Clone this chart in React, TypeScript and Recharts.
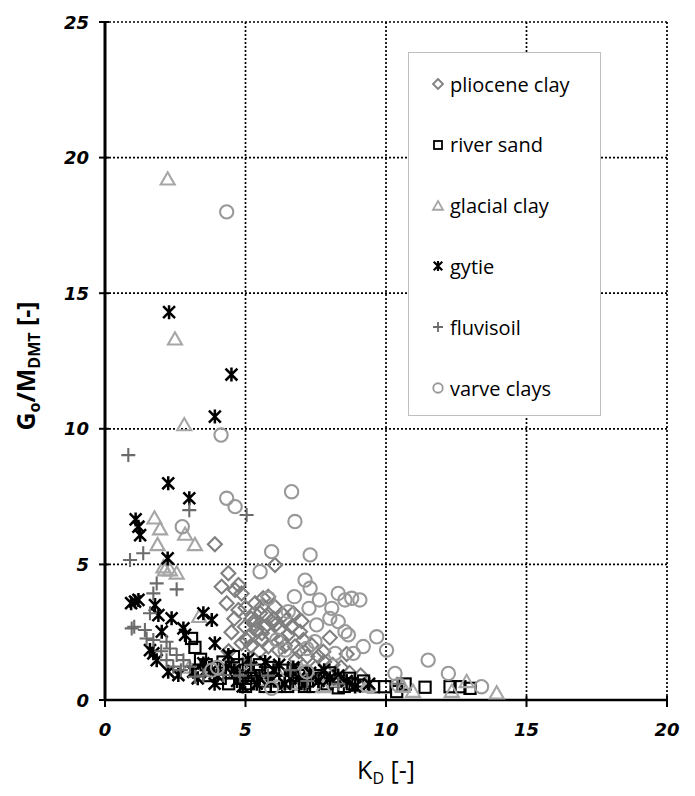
import React from "react";
import { ScatterChart, Scatter, XAxis, YAxis, CartesianGrid, Legend } from "recharts";

type P = { x: number; y: number };
const pt = (a: number[][]): P[] => a.map(([x, y]) => ({ x, y }));

const xTicks = [0, 5, 10, 15, 20];
const yTicks = [0, 5, 10, 15, 20, 25];

const plioceneClay = pt([
  [3.91, 5.74], [4.39, 4.67], [4.15, 4.18], [4.63, 4.06], [4.33, 3.57], [4.86, 3.93], [4.75, 3.32],
  [6.05, 4.98], [5.81, 3.81], [5.58, 3.44], [4.75, 4.24], [5.34, 3.57], [5.63, 3.75], [6.05, 3.44],
  [6.35, 3.13], [6.46, 2.95], [6.64, 2.7], [6.94, 2.52], [7.06, 2.21], [7.35, 2.03], [7.77, 1.78],
  [7.59, 1.6], [6.76, 1.97], [5.34, 2.95], [4.98, 2.7], [5.1, 2.33], [5.58, 2.46], [5.81, 1.97],
  [6.17, 1.84], [4.86, 2.09], [5.52, 3.2], [5.93, 2.89], [5.2, 3.0], [5.4, 2.6], [5.7, 2.7],
  [5.9, 2.4], [6.2, 2.6], [6.3, 2.2], [6.5, 2.4], [6.0, 3.0], [5.0, 3.4], [5.2, 2.0], [5.5, 1.8],
  [6.9, 1.8], [7.2, 1.6], [7.8, 1.4], [8.1, 1.3], [8.4, 1.2], [8.7, 1.0], [9.1, 0.9], [4.5, 2.5],
  [4.6, 3.0], [6.7, 3.2], [7.0, 2.9], [8.0, 2.3], [8.6, 1.7], [5.05, 2.2], [4.9, 1.3], [4.4, 1.8],
  [6.8, 1.5], [7.5, 1.2], [5.3, 2.8], [5.75, 3.1], [6.1, 2.8], [6.4, 2.0], [5.6, 2.2],
]);

const riverSand = pt([
  [3.08, 2.27], [3.2, 1.94], [3.4, 1.5], [3.6, 1.3], [3.9, 1.2], [4.2, 1.4], [4.57, 1.6], [4.5, 1.0],
  [4.8, 0.8], [5.0, 1.1], [5.1, 0.6], [5.3, 0.9], [5.5, 1.3], [5.6, 0.7], [5.8, 1.0], [6.0, 0.8],
  [6.1, 0.5], [6.3, 1.1], [6.4, 0.7], [6.6, 0.9], [6.8, 0.6], [7.0, 1.0], [7.2, 0.7], [7.4, 0.5],
  [7.7, 0.8], [7.9, 0.6], [8.2, 0.7], [8.5, 0.5], [8.8, 0.6], [9.0, 0.55], [9.55, 0.49], [9.96, 0.49],
  [10.38, 0.31], [10.68, 0.59], [11.39, 0.47], [12.28, 0.49], [12.63, 0.49], [12.99, 0.43],
  [4.4, 0.6], [4.7, 1.3], [5.0, 0.5], [5.2, 0.8], [5.4, 1.1], [5.7, 0.5], [5.9, 1.2], [6.2, 0.7],
  [6.5, 0.5], [6.7, 1.1], [6.9, 0.9], [7.1, 0.5], [7.5, 0.9], [7.8, 0.5], [8.0, 1.0], [8.3, 0.45],
  [8.7, 0.8], [9.2, 0.7], [3.3, 1.1], [3.7, 0.9], [4.1, 0.8],
]);

const glacialClay = pt([
  [2.23, 19.2], [2.49, 13.3], [2.82, 10.14], [1.76, 6.7], [1.96, 6.3], [1.87, 5.72], [3.2, 5.72],
  [2.13, 4.79], [2.31, 4.79], [2.55, 4.67], [2.08, 4.9], [3.35, 3.07], [5.52, 0.74], [7.77, 0.49],
  [9.29, 0.49], [9.37, 0.52], [10.6, 0.49], [10.96, 0.31], [12.34, 0.31], [12.87, 0.67], [13.94, 0.25],
  [6.2, 0.9], [7.0, 1.1], [8.3, 0.7], [6.6, 0.6], [3.0, 1.2], [2.85, 6.1],
]);

const gytie = pt([
  [2.28, 14.3], [4.5, 12.0], [3.91, 10.45], [2.25, 7.99], [3.0, 7.44], [1.09, 6.66], [1.19, 6.39],
  [1.25, 6.08], [2.23, 5.22], [1.07, 3.63], [0.93, 3.57], [1.19, 3.69], [1.78, 3.5], [1.9, 3.13],
  [3.5, 3.2], [3.8, 2.95], [2.37, 3.01], [2.79, 2.64], [2.02, 2.52], [3.91, 2.09], [1.72, 1.72],
  [4.39, 1.66], [1.84, 1.47], [2.25, 1.04], [2.61, 0.92], [3.5, 1.35], [3.74, 1.04], [3.14, 1.04],
  [2.85, 2.4], [1.6, 1.84], [4.0, 0.9], [4.3, 1.2], [4.7, 0.7], [5.2, 1.2], [5.5, 0.8], [5.7, 1.4],
  [6.0, 1.1], [6.4, 0.6], [6.7, 1.2], [6.9, 0.8], [7.3, 1.0], [8.0, 0.8], [8.6, 0.7], [9.4, 0.6],
  [4.6, 1.1], [4.9, 0.5], [5.1, 1.5], [5.4, 0.6], [5.9, 0.7], [6.2, 1.3], [6.6, 0.8], [7.1, 0.6],
  [7.6, 0.7], [7.8, 1.1], [8.3, 0.9], [8.9, 0.5], [3.3, 0.8], [3.9, 0.6],
]);

const fluvisoil = pt([
  [0.83, 9.03], [3.0, 7.0], [5.04, 6.82], [1.36, 5.41], [0.89, 5.16], [1.84, 4.3], [2.55, 4.08],
  [1.72, 3.93], [0.95, 2.64], [1.42, 2.58], [1.48, 2.27], [1.72, 2.21], [2.19, 2.15], [2.31, 1.9],
  [2.55, 1.66], [2.19, 1.47], [2.79, 1.47], [2.43, 1.23], [3.02, 1.23], [3.2, 0.86], [4.21, 0.92],
  [1.6, 3.2], [1.04, 2.7], [2.0, 1.8], [2.7, 1.1], [3.5, 0.9], [4.8, 0.9], [5.2, 1.3], [5.8, 0.9],
  [6.6, 1.1], [7.2, 0.7], [8.3, 0.6], [10.4, 0.6],
]);

const varveClays = pt([
  [4.33, 18.0], [4.13, 9.77], [4.33, 7.44], [4.63, 7.13], [2.75, 6.39], [6.64, 7.68], [6.76, 6.58],
  [5.93, 5.47], [7.3, 5.35], [5.52, 4.73], [7.12, 4.42], [7.3, 4.12], [6.74, 3.81], [7.63, 3.69],
  [8.3, 3.93], [8.54, 3.69], [8.78, 3.75], [7.26, 3.38], [8.07, 3.38], [5.81, 3.75], [6.52, 3.26],
  [8.0, 3.01], [7.53, 2.77], [8.3, 2.89], [8.54, 2.52], [8.66, 2.4], [6.11, 2.21], [9.19, 1.97],
  [8.84, 1.72], [7.18, 1.9], [6.41, 1.84], [7.47, 2.15], [8.19, 1.72], [5.93, 0.43], [7.18, 1.04],
  [9.07, 3.69], [9.67, 2.33], [10.02, 1.84], [11.5, 1.47], [10.32, 0.98], [12.22, 0.98], [13.4, 0.49],
  [10.44, 0.55], [3.8, 1.1], [4.0, 1.2],
]);

type Kind = "diamond" | "square" | "triangle" | "star" | "plus" | "circle";

const seriesDefs: { name: string; data: P[]; kind: Kind; color: string }[] = [
  { name: "pliocene clay", data: plioceneClay, kind: "diamond", color: "#7f7f7f" },
  { name: "river sand", data: riverSand, kind: "square", color: "#000000" },
  { name: "glacial clay", data: glacialClay, kind: "triangle", color: "#a6a6a6" },
  { name: "gytie", data: gytie, kind: "star", color: "#000000" },
  { name: "fluvisoil", data: fluvisoil, kind: "plus", color: "#6b6b6b" },
  { name: "varve clays", data: varveClays, kind: "circle", color: "#999999" },
];

function marker(kind: Kind, cx: number, cy: number, s: number, color: string, sw: number, key?: string) {
  const common = { fill: "none", stroke: color, strokeWidth: sw };
  switch (kind) {
    case "diamond":
      return <path key={key} d={`M${cx},${cy - s}L${cx + s},${cy}L${cx},${cy + s}L${cx - s},${cy}Z`} {...common} />;
    case "square":
      return <rect key={key} x={cx - s * 0.8} y={cy - s * 0.8} width={s * 1.6} height={s * 1.6} {...common} />;
    case "triangle":
      return <path key={key} d={`M${cx},${cy - s}L${cx + s},${cy + s * 0.75}L${cx - s},${cy + s * 0.75}Z`} {...common} />;
    case "star":
      return (
        <path key={key} d={`M${cx - s * 0.85},${cy - s * 0.85}L${cx + s * 0.85},${cy + s * 0.85}M${cx - s * 0.85},${cy + s * 0.85}L${cx + s * 0.85},${cy - s * 0.85}M${cx},${cy - s}L${cx},${cy + s}`} {...common} strokeWidth={sw * 1.2} />
      );
    case "plus":
      return <path key={key} d={`M${cx - s},${cy}L${cx + s},${cy}M${cx},${cy - s}L${cx},${cy + s}`} {...common} />;
    case "circle":
      return <circle key={key} cx={cx} cy={cy} r={s * 0.95} {...common} />;
  }
}

const makeShape = (kind: Kind, color: string) => (props: any) => {
  const { cx, cy } = props;
  if (cx == null || cy == null) return <g />;
  return marker(kind, cx, cy, 7, color, 2.1);
};

const YTick = (props: any) => {
  const { x, y, payload } = props;
  const ax = x + 16;
  return (
    <g>
      <line x1={ax - 6} x2={ax + 4} y1={y} y2={y} stroke="#000" strokeWidth={2} />
      <text x={x} y={y} textAnchor="end" dominantBaseline="central" fontFamily="DejaVu Sans" fontWeight="bold" fontStyle="italic" fontSize={18} fill="#000">
        {payload.value}
      </text>
    </g>
  );
};

const XTick = (props: any) => {
  const { x, y, payload } = props;
  const ay = y - 22;
  return (
    <g>
      <line x1={x} x2={x} y1={ay - 4} y2={ay + 7} stroke="#000" strokeWidth={2} />
      <text x={x} y={y} textAnchor="middle" dominantBaseline="hanging" fontFamily="DejaVu Sans" fontWeight="bold" fontStyle="italic" fontSize={18} fill="#000">
        {payload.value}
      </text>
    </g>
  );
};

const YLabel = () => (
  <text x={27} y={358} transform="rotate(-90, 27, 358)" textAnchor="middle" fontFamily="Open Sans" fontWeight="bold" fontSize={25} fill="#000">
    <tspan>G</tspan>
    <tspan dy={5} fontSize={16}>o</tspan>
    <tspan dy={-5}>/M</tspan>
    <tspan dy={5} fontSize={16}>DMT</tspan>
    <tspan dy={-5}> [-]</tspan>
  </text>
);

const XLabel = () => (
  <text x={378} y={771} textAnchor="middle" fontFamily="Open Sans" fontSize={25} fill="#000">
    <tspan>K</tspan>
    <tspan dy={5} fontSize={16}>D</tspan>
    <tspan dy={-5}> [-]</tspan>
  </text>
);

const LegendBox = () => (
  <div
    style={{
      width: 193,
      height: 364,
      boxSizing: "border-box",
      border: "1px solid #bfbfbf",
      background: "#fff",
      fontFamily: "Open Sans",
      fontSize: 20,
      color: "#000",
      position: "relative",
    }}
  >
    {seriesDefs.map((s, i) => (
      <div key={s.name} style={{ position: "absolute", left: 21, top: 31 + i * 60.8 - 14, height: 28, display: "flex", alignItems: "center" }}>
        <svg width={16} height={16} style={{ display: "block" }}>
          {marker(s.kind, 8, 8, 5, s.color, 1.8)}
        </svg>
        <span style={{ marginLeft: 4, whiteSpace: "nowrap" }}>{s.name}</span>
      </div>
    ))}
  </div>
);

export default function App() {
  return (
    <ScatterChart width={679} height={780} margin={{ top: 14, right: 20, bottom: 28, left: 37 }}>
      <CartesianGrid stroke="#000" strokeWidth={1.7} strokeDasharray="2 2" />
      <XAxis
        type="number"
        dataKey="x"
        domain={[0, 20]}
        ticks={xTicks}
        height={60}
        tickSize={0}
        tickMargin={22}
        tickLine={false}
        axisLine={{ stroke: "#000", strokeWidth: 2.5 }}
        tick={<XTick />}
        label={<XLabel />}
        interval={0}
      />
      <YAxis
        type="number"
        dataKey="y"
        domain={[0, 25]}
        ticks={yTicks}
        width={60}
        tickSize={0}
        tickMargin={16}
        tickLine={false}
        axisLine={{ stroke: "#000", strokeWidth: 3 }}
        tick={<YTick />}
        label={<YLabel />}
        interval={0}
      />
      <Legend
        verticalAlign="middle"
        align="center"
        layout="vertical"
        wrapperStyle={{ position: "absolute", left: 400, top: 44, width: 193, height: 364 }}
        content={() => <LegendBox />}
      />
      {seriesDefs.map((s) => (
        <Scatter key={s.name} name={s.name} data={s.data} shape={makeShape(s.kind, s.color)} isAnimationActive={false} />
      ))}
    </ScatterChart>
  );
}
